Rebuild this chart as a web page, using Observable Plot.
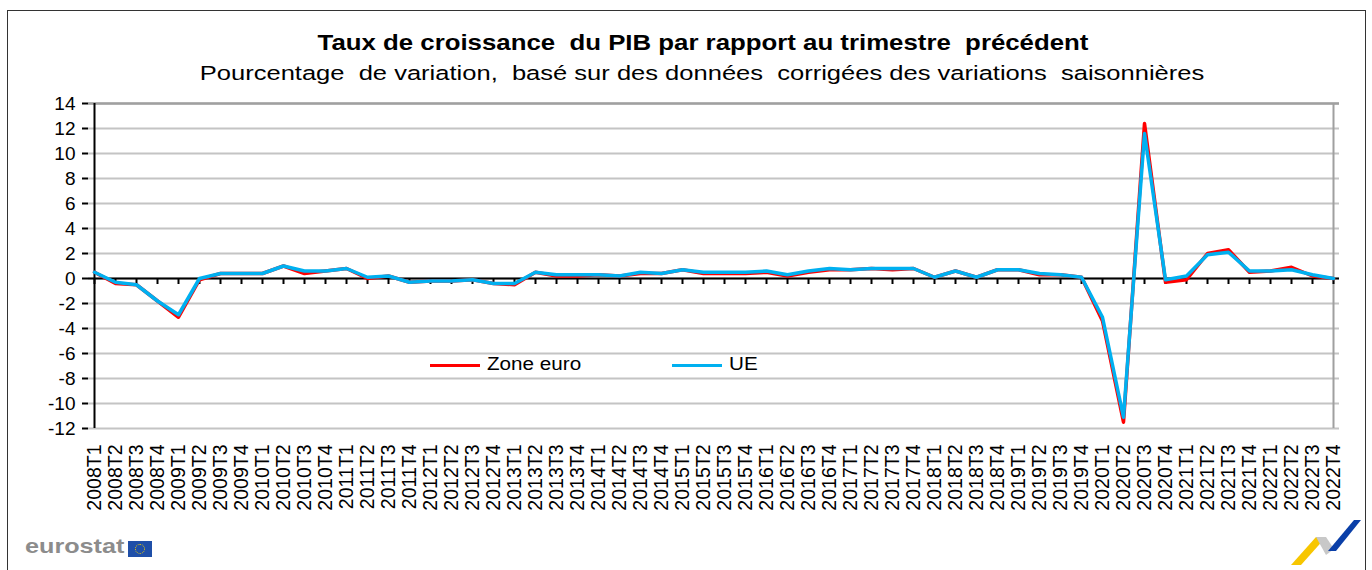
<!DOCTYPE html>
<html>
<head>
<meta charset="utf-8">
<script src="https://cdn.jsdelivr.net/npm/d3@7"></script>
<script src="https://cdn.jsdelivr.net/npm/@observablehq/plot@0.6"></script>
<style>
  html, body { margin: 0; padding: 0; background: #fff; }
  body { width: 1372px; height: 570px; position: relative; overflow: hidden; font-family: "Liberation Sans", Arial, sans-serif; }
  #frame { position: absolute; left: 7px; top: 10px; width: 1359px; height: 580px; border: 1.5px solid #333; box-sizing: border-box; }
  #title { position: absolute; left: 17px; width: 1372px; top: 31px; text-align: center; font-weight: bold; font-size: 21.5px; color: #000; white-space: pre; transform: scaleX(1.2); transform-origin: 50% 0; }
  #subtitle { position: absolute; left: 16px; width: 1372px; top: 61px; text-align: center; font-size: 20.5px; color: #000; white-space: pre; transform: scaleX(1.245); transform-origin: 50% 0; }
  #chart { position: absolute; left: 0; top: 0; }
  .leg { position: absolute; font-size: 17.5px; color: #000; transform: scaleX(1.18); transform-origin: 0 0; }
  .legline { position: absolute; height: 3px; width: 50px; }
  #eurostat { position: absolute; left: 25px; top: 534px; font-size: 21px; font-weight: bold; color: #8c8c8c; transform: scaleX(1.2); transform-origin: 0 0; }
  #flag { position: absolute; left: 128px; top: 541px; width: 24px; height: 16px; background: #1f4fa8; }
  #flag div { position: absolute; left: 7px; top: 3px; width: 8px; height: 8px; border: 1px dotted #f5d000; border-radius: 50%; }
</style>
</head>
<body>
<div id="frame"></div>
<div id="title"></div>
<div id="subtitle"></div>
<div id="chart"></div>
<div class="legline" style="left:430px; top:364px; background:#ff0000;"></div>
<div class="leg" style="left:487px; top:354px;">Zone euro</div>
<div class="legline" style="left:672px; top:364px; background:#00b0f0;"></div>
<div class="leg" style="left:729px; top:354px;">UE</div>
<div id="eurostat">eurostat</div>
<div id="flag"><div></div></div>
<svg style="position:absolute; left:1285px; top:515px;" width="80" height="55">
  <polygon points="6,50 31,22 41,22 16,50" fill="#f7c600"/>
  <polygon points="31,22 41,22 49,34 41,40" fill="#c8c8c8"/>
  <polygon points="43,36 69,5 76,5 51,36" fill="#0a3fa8"/>
</svg>
<script>
const titleText = "Taux de croissance  du PIB par rapport au trimestre  précédent";
const subtitleText = "Pourcentage  de variation,  basé sur des données  corrigées des variations  saisonnières";

const quarters = [
  "2008T1","2008T2","2008T3","2008T4",
  "2009T1","2009T2","2009T3","2009T4",
  "2010T1","2010T2","2010T3","2010T4",
  "2011T1","2011T2","2011T3","2011T4",
  "2012T1","2012T2","2012T3","2012T4",
  "2013T1","2013T2","2013T3","2013T4",
  "2014T1","2014T2","2014T3","2014T4",
  "2015T1","2015T2","2015T3","2015T4",
  "2016T1","2016T2","2016T3","2016T4",
  "2017T1","2017T2","2017T3","2017T4",
  "2018T1","2018T2","2018T3","2018T4",
  "2019T1","2019T2","2019T3","2019T4",
  "2020T1","2020T2","2020T3","2020T4",
  "2021T1","2021T2","2021T3","2021T4",
  "2022T1","2022T2","2022T3","2022T4"
];

const zoneEuro = [
  0.5, -0.4, -0.5, -1.8,
  -3.1, -0.1, 0.4, 0.4,
  0.4, 1.0, 0.4, 0.6,
  0.8, 0.0, 0.2, -0.3,
  -0.2, -0.2, -0.1, -0.4,
  -0.5, 0.5, 0.2, 0.2,
  0.3, 0.2, 0.4, 0.4,
  0.7, 0.4, 0.4, 0.4,
  0.5, 0.2, 0.5, 0.7,
  0.7, 0.8, 0.7, 0.8,
  0.1, 0.6, 0.1, 0.7,
  0.7, 0.3, 0.3, 0.1,
  -3.4, -11.5, 12.4, -0.3,
  -0.1, 2.0, 2.3, 0.5,
  0.6, 0.9, 0.2, 0.0
];

const ue = [
  0.5, -0.3, -0.5, -1.8,
  -2.9, 0.0, 0.4, 0.4,
  0.4, 1.0, 0.6, 0.6,
  0.8, 0.1, 0.2, -0.3,
  -0.2, -0.2, -0.1, -0.4,
  -0.4, 0.5, 0.3, 0.3,
  0.3, 0.2, 0.5, 0.4,
  0.7, 0.5, 0.5, 0.5,
  0.6, 0.3, 0.6, 0.8,
  0.7, 0.8, 0.8, 0.8,
  0.1, 0.6, 0.1, 0.7,
  0.7, 0.4, 0.3, 0.1,
  -3.1, -11.1, 11.6, -0.1,
  0.2, 1.9, 2.1, 0.6,
  0.6, 0.7, 0.3, 0.0
];

const yTicks = [-12, -10, -8, -6, -4, -2, 0, 2, 4, 6, 8, 10, 12, 14];
const yDomain = [-12, 14];

document.getElementById("title").textContent = titleText;
document.getElementById("subtitle").textContent = subtitleText;

const euroData = quarters.map((q, i) => ({q, v: zoneEuro[i]}));
const ueData = quarters.map((q, i) => ({q, v: ue[i]}));
const first = quarters[0], last = quarters[quarters.length - 1];

const chart = Plot.plot({
  width: 1372,
  height: 570,
  marginLeft: 88,
  marginRight: 33,
  marginTop: 103,
  marginBottom: 142,
  style: {fontFamily: "'Liberation Sans', Arial, sans-serif", background: "transparent", overflow: "visible"},
  x: {type: "point", domain: quarters, padding: 0},
  y: {domain: yDomain},
  marks: [
    Plot.ruleY(yTicks, {stroke: "#c4c4c4", strokeWidth: 2}),
    Plot.ruleY([yDomain[1]], {stroke: "#a0a0a0", strokeWidth: 2.5}),
    Plot.ruleX([last], {y1: yDomain[0], y2: yDomain[1], stroke: "#a0a0a0", strokeWidth: 2}),
    Plot.ruleY([0], {stroke: "#000", strokeWidth: 2}),
    Plot.ruleX(quarters, {y1: 0, y2: 0, insetBottom: -6, stroke: "#000", strokeWidth: 2}),
    Plot.ruleX([first], {y1: yDomain[0], y2: yDomain[1], stroke: "#000", strokeWidth: 2}),
    Plot.axisY({ticks: yTicks, tickSize: 6, tickPadding: 7, fontSize: 19, stroke: "#000", strokeWidth: 2, label: null, tickFormat: d => String(d)}),
    Plot.axisX({ticks: quarters, tickRotate: -90, tickSize: 0, tickPadding: 16, fontSize: 19.5, label: null}),
    Plot.line(euroData, {x: "q", y: "v", stroke: "#ff0000", strokeWidth: 3.5}),
    Plot.line(ueData, {x: "q", y: "v", stroke: "#00b0f0", strokeWidth: 3.5})
  ]
});
document.getElementById("chart").appendChild(chart);
</script>
</body>
</html>
